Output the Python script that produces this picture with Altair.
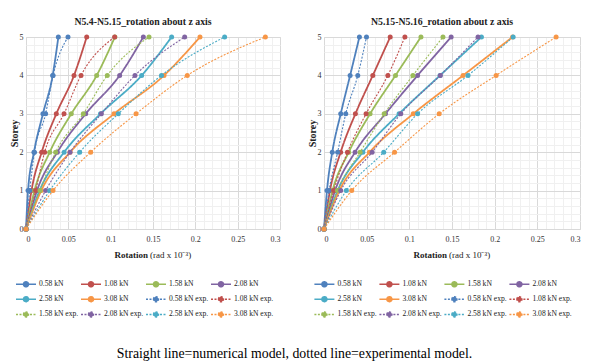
import altair as alt
import pandas as pd

storeys = [0, 1, 2, 3, 4, 5]
loads = ["0.58 kN", "1.08 kN", "1.58 kN", "2.08 kN", "2.58 kN", "3.08 kN"]
colors = ["#4F81BD", "#C0504D", "#9BBB59", "#8064A2", "#4BACC6", "#F79646"]

# Left panel: N5.4-N5.15
left_num = [
    [0, 0.0024, 0.0094, 0.0200, 0.0315, 0.0382],
    [0, 0.0065, 0.0185, 0.0358, 0.0567, 0.0717],
    [0, 0.0100, 0.0280, 0.0535, 0.0835, 0.1050],
    [0, 0.0130, 0.0370, 0.0705, 0.1106, 0.1386],
    [0, 0.0160, 0.0450, 0.0880, 0.1366, 0.1720],
    [0, 0.0180, 0.0520, 0.1040, 0.1630, 0.2055],
]
left_exp = [
    [0, 0.0044, 0.0100, 0.0232, 0.0320, 0.0496],
    [0, 0.0114, 0.0220, 0.0449, 0.0650, 0.1047],
    [0, 0.0165, 0.0350, 0.0677, 0.0960, 0.1453],
    [0, 0.0232, 0.0520, 0.0890, 0.1287, 0.1874],
    [0, 0.0280, 0.0634, 0.1090, 0.1600, 0.2346],
    [0, 0.0319, 0.0764, 0.1300, 0.1905, 0.2827],
]
# Right panel: N5.15-N5.16
right_num = [
    [0, 0.0035, 0.0097, 0.0196, 0.0306, 0.0415],
    [0, 0.0070, 0.0195, 0.0368, 0.0572, 0.0776],
    [0, 0.0100, 0.0290, 0.0540, 0.0838, 0.1136],
    [0, 0.0130, 0.0364, 0.0720, 0.1097, 0.1490],
    [0, 0.0160, 0.0455, 0.0880, 0.1360, 0.1845],
    [0, 0.0180, 0.0533, 0.1046, 0.1630, 0.2210],
]
right_exp = [
    [0, 0.0060, 0.0160, 0.0255, 0.0396, 0.0498],
    [0, 0.0114, 0.0275, 0.0493, 0.0748, 0.0948],
    [0, 0.0157, 0.0423, 0.0705, 0.1042, 0.1394],
    [0, 0.0196, 0.0564, 0.0900, 0.1363, 0.1805],
    [0, 0.0262, 0.0700, 0.1097, 0.1688, 0.2217],
    [0, 0.0325, 0.0827, 0.1350, 0.2017, 0.2720],
]

left_title = "N5.4-N5.15_rotation about z axis"
right_title = "N5.15-N5.16_rotation about z axis"
caption = "Straight line=numerical model, dotted line=experimental model."
x_title_bold = "Rotation"
x_title_rest = "(rad x 10\u207b\u00b3)"
y_title = "Storey"

FONT = "Liberation Serif"
series_names = loads + [l + " exp." for l in loads]
x_minor = [round(i * 0.01, 2) for i in range(31)]
y_minor = [round(i * 0.2, 1) for i in range(26)]


def make_df(num, exp):
    rows = []
    for i, l in enumerate(loads):
        for s, v in zip(storeys, num[i]):
            rows.append(dict(series=l, kind="num", storey=s, rot=v))
    for i, l in enumerate(loads):
        for s, v in zip(storeys, exp[i]):
            rows.append(dict(series=l + " exp.", kind="exp", storey=s, rot=v))
    return pd.DataFrame(rows)


# legend glyph: a short line with a dot in its middle
LEG_PATH = ("M-1,0L3,0M0.5,0A0.5,0.5,0,1,1,1.5,0"
            "A0.5,0.5,0,1,1,0.5,0Z")


def panel(num, exp, title, w, leg_x):
    df = make_df(num, exp)
    color_scale = alt.Scale(domain=series_names, range=colors * 2)
    dash_scale = alt.Scale(domain=series_names, range=[[1, 0]] * 6 + [[2, 1.5]] * 6)
    legend = alt.Legend(
        title=None, orient="none", legendX=leg_x, legendY=241, columns=4,
        direction="horizontal",
        symbolType=LEG_PATH, symbolSize=100, symbolStrokeWidth=1.5,
        labelFont=FONT, labelFontSize=7.6, labelColor="#222", labelOffset=12,
        rowPadding=3.2, columnPadding=-1, gridAlign="all", labelLimit=80,
    )
    xtick_expr = "round(datum.value*100) % 5 == 0 ? toString(round(datum.value*100)/100) : ''"
    ytick_expr = "round(datum.value*10) % 10 == 0 ? toString(round(datum.value)) : ''"
    grid_x = {"condition": {"test": "round(datum.value*100) % 5 == 0", "value": "#d9d9d9"}, "value": "#f0f0f0"}
    grid_y = {"condition": {"test": "round(datum.value*10) % 10 == 0", "value": "#d9d9d9"}, "value": "#f0f0f0"}
    x = alt.X("rot:Q", scale=alt.Scale(domain=[0, 0.3], nice=False),
              axis=alt.Axis(values=x_minor, title=None, labelExpr=xtick_expr, ticks=False,
                            domain=False, gridColor=grid_x, labelFont=FONT, labelFontSize=8,
                            labelColor="#333", labelPadding=6, labelOverlap=False))
    y = alt.Y("storey:Q", scale=alt.Scale(domain=[0, 5], nice=False),
              axis=alt.Axis(values=y_minor, title=y_title, labelExpr=ytick_expr, ticks=False,
                            domain=False, gridColor=grid_y, labelFont=FONT, labelFontSize=8,
                            labelColor="#333", labelPadding=3, labelOverlap=False,
                            titleFont=FONT, titleFontSize=10, titleFontWeight="bold",
                            titleColor="#222", titlePadding=0))
    color = alt.Color("series:N", scale=color_scale, legend=legend)
    dash = alt.StrokeDash("series:N", scale=dash_scale, legend=legend)
    base = alt.Chart(df)
    num_lines = base.transform_filter("datum.kind == 'num'").mark_line(
        strokeWidth=1.8, interpolate="monotone").encode(x=x, y=y, color=color, strokeDash=dash, order="storey:Q")
    exp_lines = base.transform_filter("datum.kind == 'exp'").mark_line(
        strokeWidth=1.1, interpolate="monotone").encode(x=x, y=y, color=color, strokeDash=dash, order="storey:Q")
    num_pts = base.transform_filter("datum.kind == 'num'").mark_point(
        filled=True, size=25, opacity=1).encode(x=x, y=y, color=color)
    exp_pts = base.transform_filter("datum.kind == 'exp'").mark_point(
        filled=True, size=25, opacity=1).encode(x=x, y=y, color=color)
    t1 = alt.Chart(pd.DataFrame({"t": [x_title_bold]})).mark_text(
        font=FONT, fontSize=9, fontWeight="bold", align="right", color="#222").encode(
        x=alt.value(w / 2 - 5), y=alt.value(218), text="t:N")
    t2 = alt.Chart(pd.DataFrame({"t": [x_title_rest]})).mark_text(
        font=FONT, fontSize=9, align="left", color="#222").encode(
        x=alt.value(w / 2 - 3), y=alt.value(218), text="t:N")
    return alt.layer(num_lines, num_pts, exp_lines, exp_pts, t1, t2).properties(
        width=w, height=192,
        title=alt.TitleParams(title, font=FONT, fontSize=9.8, fontWeight="bold",
                              color="#222", dx=-10, offset=6.5),
    )


left = panel(left_num, left_exp, left_title, 254, -11)
right = panel(right_num, right_exp, right_title, 256, -10.6)

chart = alt.hconcat(left, right, spacing=25).resolve_scale(
    color="independent", strokeDash="independent"
).properties(
    title=alt.TitleParams(caption, orient="bottom", anchor="middle", font=FONT,
                          fontSize=13.8, fontWeight="normal", color="#000", offset=26),
    padding={"left": 0, "top": 8, "right": 0, "bottom": 0},
).configure_view(stroke=None).configure(background="white")

chart.save("out.html", embed_options={"renderer": "svg", "actions": False})
